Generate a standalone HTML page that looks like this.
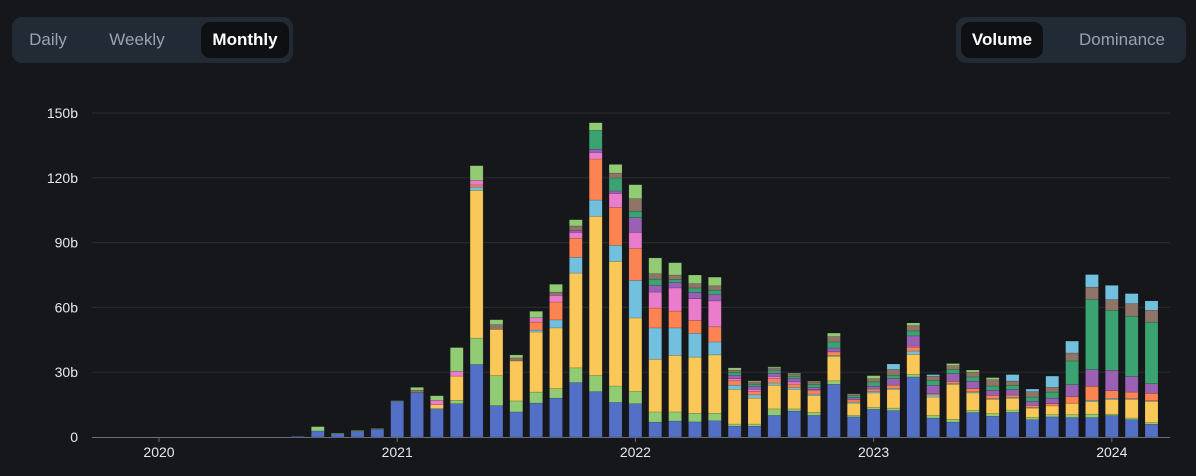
<!DOCTYPE html>
<html><head><meta charset="utf-8"><style>
body{margin:0;background:#16171b;width:1196px;height:476px;overflow:hidden;font-family:"Liberation Sans",sans-serif;}
.grp{position:absolute;top:17px;height:46px;background:#222a36;border-radius:10px;}
.btn{position:absolute;top:5px;height:36px;line-height:36px;font-size:17px;color:#9aa3ad;text-align:center;border-radius:9px;}
.btn.on{background:#0e1014;color:#fff;font-weight:bold;}
</style></head><body>
<div class="grp" style="left:12px;width:281px;">
 <div class="btn" style="left:8px;width:56px;">Daily</div>
 <div class="btn" style="left:90px;width:70px;">Weekly</div>
 <div class="btn on" style="left:189px;width:88px;">Monthly</div>
</div>
<div class="grp" style="left:956px;width:230px;">
 <div class="btn on" style="left:5px;width:82px;">Volume</div>
 <div class="btn" style="left:114px;width:104px;">Dominance</div>
</div>
<svg id="chart" width="1196" height="476" style="position:absolute;left:0;top:0"></svg>
<script>
const months = 44; // Aug 2020 .. Mar 2024
const startMonth = 7;
const blue=[.3,2.8,1.5,2.6,3.6,16.5,20.5,13.1,15.4,33.6,14.5,11.6,15.7,18,25.2,21,16,15.4,6.9,7.4,7,7.5,5,5,10,12,10,24.4,9.3,12.8,12.2,27.8,8.8,6.9,11.3,9.6,11.4,8,9.3,9,9,9.9,8,5.9];
const green=[0,0,0,0,0,0,0,0,1.6,12.2,13.9,5.1,5.1,4.4,6.8,7.4,7.6,5.7,4.7,4.2,4,3.5,1,1,3,1,1.4,1.6,.7,.9,1.2,1.2,1.2,1.3,1,1.2,1.1,1.1,1,1.3,1.6,.7,.8,.7];
const yellow=[0,0,0,0,0,0,0,1.9,11.2,68.4,21.4,18.5,27.8,28.1,43.9,73.8,57.7,34,24.4,26.2,26,27,16,12,11,9,7.9,11.3,5.7,6.7,8.6,9.3,8.5,16.2,8.1,6.6,5.5,4.3,4.1,5.3,5.9,6.8,8.6,9.9];
const lightBlue=[0,0,0,0,0,0,0,0,0,1.5,0,0,.9,3.7,7.3,7.5,7.4,17.4,14.5,12.7,11,6,2,1.5,1,1,.6,.5,.5,.8,.5,1.5,1,.4,.5,.3,.4,.3,0,0,.5,.5,.3,.3];
const orange=[0,0,0,0,0,0,0,0,0,1,0,0,3.7,8.3,8.8,19,17.6,14.8,9.2,7.8,6,7,2,1.5,2,1.5,1.5,1.6,1,1,1.5,1.8,.6,1,1.5,1.5,1,1,1,3.1,6.5,3.5,3.1,3.4];
const pink=[0,0,0,0,0,0,0,2,2.2,2.1,0,0,2,3.1,2.7,3,6.4,7.4,7.4,10.7,10,12,1,1,1,1,.5,0,0,0,0,.5,0,0,0,0,0,0,0,0,0,0,0,0];
const purple=[0,0,0,0,0,0,0,0,0,0,0,0,0,0,1,1.5,1.2,6.8,3,2.5,3,3,1.5,1.5,1.5,1.5,1,1.8,1,1.3,3,4.7,3.8,3.5,3.4,2.4,2.5,1.8,2.6,5.5,7.7,9.5,7.3,4.5];
const teal=[0,0,0,0,0,0,0,0,0,0,0,0,0,0,0,8.8,6,3,3,1.5,2,2,1.5,1,1.5,1,1.5,2.8,1,2,1.5,2.3,2.3,2,2,2,2,2,2.8,11,32.5,27.7,27.8,28.5];
const other=[0,0,0,0,0,0,1.2,0,0,0,2.2,1.4,0,1.5,2,0,2.3,5.8,2.5,2,2,2,1,1,1,1,1,2.5,.8,1.5,2.8,2.5,2,1.7,2.2,2.9,2,2.5,2.2,3.7,5.7,5,5.9,5.5];
const topGreen=[0,2,.3,.4,.3,.3,1.3,2.1,11,6.8,2.3,1.4,3,3.6,2.9,3.5,4,6.5,7.3,5.7,4,4,1,.5,.5,.5,.4,1.6,0,1.4,0,1.2,0,1,1,1,0,0,0,0,0,0,0,0];
const topBlue=[0,0,0,0,0,0,0,0,0,0,0,0,0,0,0,0,0,0,0,0,0,0,0,0,0,0,0,0,0,0,2.5,0,.7,0,0,0,3,1.2,5.2,5.5,5.8,6.6,4.6,4.3];
const yTicks=[0,30,60,90,120,150];
const yTickLabels=["0","30b","60b","90b","120b","150b"];
const xTickLabels=["2020","2021","2022","2023","2024"];
const xTickMonths=[0,12,24,36,48];

const series=[[blue,'#5470c6','blue'],[green,'#91cc75','green'],[yellow,'#fac858','yellow'],[lightBlue,'#73c0de','light-blue'],[orange,'#fc8452','orange'],[pink,'#ea7ccc','pink'],[purple,'#9a60b4','purple'],[teal,'#3ba272','teal'],[other,'#8f7468','other'],[topGreen,'#91cc75','top-green'],[topBlue,'#73c0de','top-blue']];
const svg=document.getElementById('chart');
const NS='http://www.w3.org/2000/svg';
const y=v=>437-v*2.16;
const x=m=>159+m*19.85;
function mk(t,a){const e=document.createElementNS(NS,t);for(const k in a)e.setAttribute(k,a[k]);svg.appendChild(e);return e;}
yTicks.forEach((v,i)=>{
 if(i>0){const g=mk('line',{x1:92,x2:1170,y1:y(v),y2:y(v),stroke:'#2a2c31','stroke-width':1});
 
 }
 const t=mk('text',{x:78,y:y(v)+5,'text-anchor':'end',fill:'#e6e8ea','font-size':14});
 t.textContent=yTickLabels[i];
 
 
});
const ax=mk('line',{x1:92,x2:1170,y1:437.5,y2:437.5,stroke:'#6b6e75','stroke-width':1});


xTickLabels.forEach((l,i)=>{
 const xx=x(xTickMonths[i]);
 const tk=mk('line',{x1:xx,x2:xx,y1:437,y2:442,stroke:'#6b6e75'});
 
 
 const t=mk('text',{x:xx,y:457,'text-anchor':'middle',fill:'#e6e8ea','font-size':14});
 t.textContent=l;
 
 
});
for(let i=0;i<months;i++){
 let acc=0;const cx=x(startMonth+i);
 series.forEach(([arr,c,n])=>{
  const v=arr[i];if(!v)return;
  const r=mk('rect',{x:cx-6.5,y:y(acc+v),width:13,height:v*2.16,fill:c,stroke:'rgba(0,0,0,0.25)','stroke-width':0.5});
  
  
  acc+=v;
 });
}
</script>
</body></html>
